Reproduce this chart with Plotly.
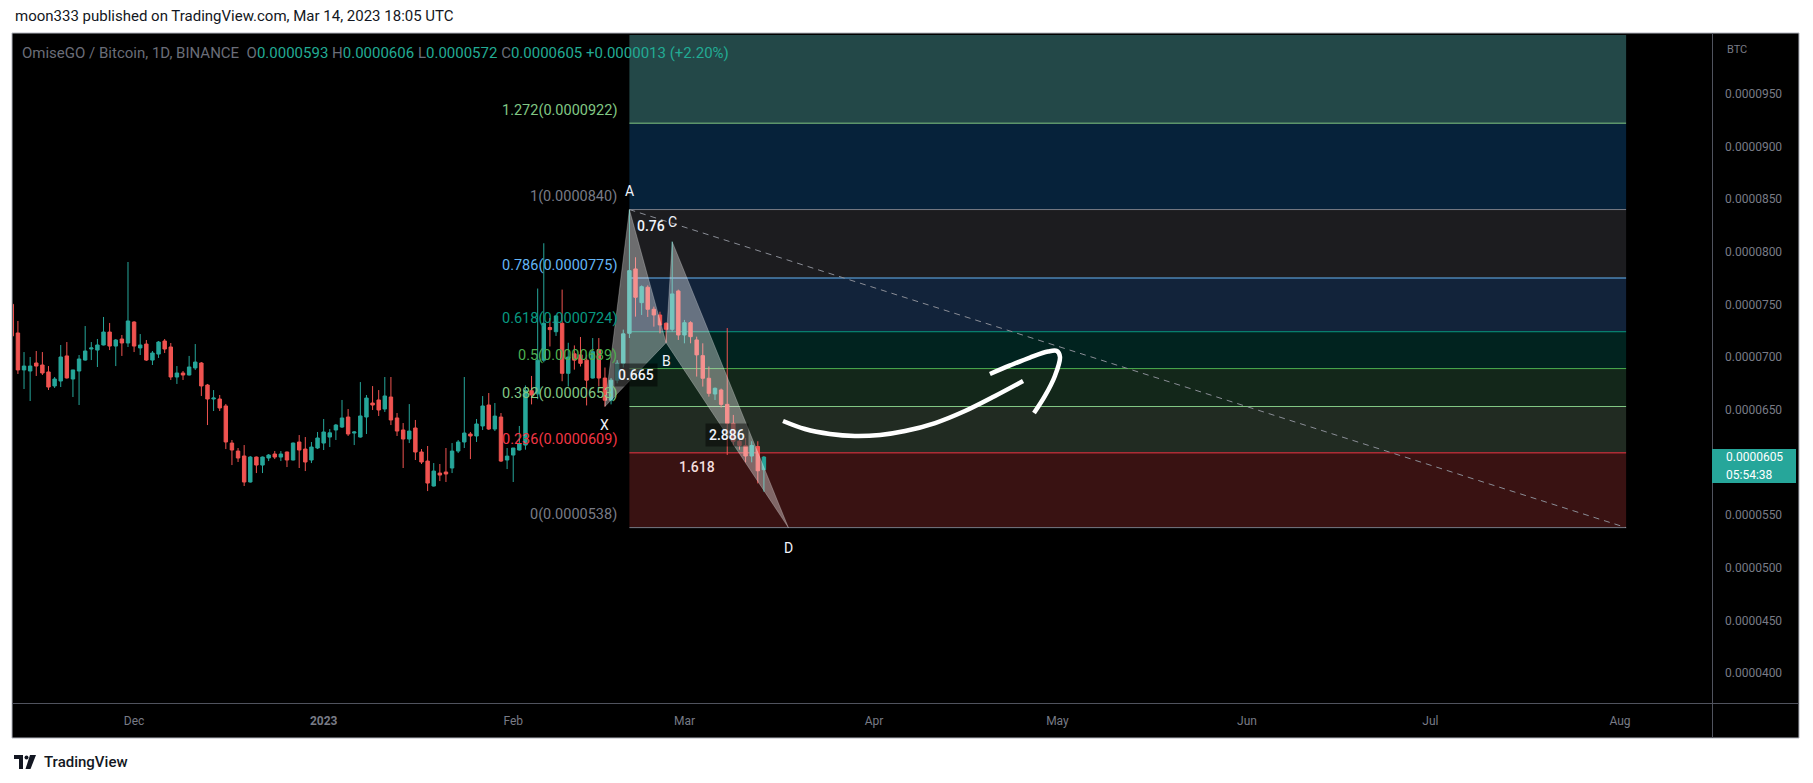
import pandas as pd
import plotly.graph_objects as go

# ---------------- data (prices in units of 0.0000001 BTC) ----------------
UNIT = 1e-7
first_day = "2022-11-11"

opens = [750, 722.8, 687.7, 686.7, 694.3, 692.4, 685.8, 672.5, 677.2, 701,
         679.1, 686.7, 697.1, 707.6, 706.6, 711.4, 723.7, 710.4, 717.1, 713.3,
         733.2, 708.6, 712.3, 697.1, 702.8, 715.2, 709.5, 681, 684.8, 682.9,
         689.6, 694.3, 673.4, 660.1, 660.1, 653.5, 618.3, 610.7, 606, 581.3,
         605, 597.4, 604.1, 607.9, 605, 609.8, 602.2, 619.3, 612.6, 602.2,
         613.6, 618.3, 624, 630.7, 633.5, 643, 627.8, 624, 643, 656.3,
         659.2, 650.6, 662, 642.1, 630.7, 622.1, 632.6, 609.8, 601.2, 577.5,
         589.8, 590.8, 594.6, 610.7, 619.3, 626.9, 625, 634.5, 654.4, 631.6,
         643, 602.2, 606.9, 611.7, 616.4, 668, 665, 697, 728, 724,
         732, 684.5, 703, 702, 697, 680, 707, 680, 659, 678,
         694, 722.5, 783.6, 751.6, 766.2, 745.3, 739.9, 732, 726.3, 762.7,
         720.9, 732.6, 716.2, 701.3, 679.8, 664.9, 668.7, 655, 637, 620,
         616, 606, 615, 593]
highs = [755, 734.2, 704.7, 700, 705.7, 704.7, 691.4, 681, 711.4, 714.2,
         687.7, 701.9, 729.4, 714.2, 717.1, 738, 732.3, 717.1, 720.9, 790.2,
         734, 721.8, 716.1, 705.7, 715.2, 717.1, 713.3, 691.4, 686.7, 701,
         712.3, 695.2, 674.4, 668.6, 663.9, 655.4, 621.2, 613.6, 616.4, 606,
         605.5, 605.5, 607.9, 610.7, 610.7, 610.2, 618.8, 625.9, 624, 619.3,
         628.8, 641.1, 631.6, 636.4, 659.2, 650.6, 629.7, 676.2, 663.9, 672.4,
         668.6, 681, 681, 646.8, 637.3, 655.3, 640.2, 612.6, 615.5, 599.3,
         598.4, 613.6, 618.3, 621.2, 681, 628.8, 641.1, 662.9, 665.8, 656.3,
         646.8, 613.6, 612.6, 634.5, 673, 682, 765, 808, 737, 740,
         764, 713.5, 711, 719, 702, 718, 718, 690, 680, 697,
         726, 840, 794.7, 768, 768, 747.8, 743, 733, 809.5, 764,
         735.2, 734, 719.3, 713, 690.9, 671, 670, 727.5, 645, 628,
         623, 620, 620, 606]
lows = [718, 683.9, 669.6, 658.2, 682, 682.9, 668.7, 670.6, 671.5, 679.5,
        662, 654.4, 696.5, 697.1, 690.5, 711, 706.6, 691.4, 701, 709.5,
        704.7, 701.9, 696.2, 692.4, 699.1, 703.8, 678.2, 674.4, 678.2, 682.5,
        687.7, 663, 635.4, 648.7, 648.7, 612.6, 597.4, 600.3, 577.5, 580.8,
        589.8, 589.8, 601.2, 603.1, 601.2, 595.5, 601.8, 594.6, 591.7, 599.3,
        612.6, 611.7, 614.5, 621.2, 632.6, 625, 616.4, 623.5, 626.9, 649.7,
        644, 647.8, 635.4, 625, 594.6, 618.3, 602.2, 598.4, 572.7, 577,
        582.2, 581.3, 589.8, 608.8, 613.6, 603.1, 619.3, 630.7, 630.7, 629.7,
        600.3, 593.6, 581.3, 611.2, 612, 655, 660, 695, 710, 720,
        677, 672, 688, 691, 654, 679.5, 672, 653, 655, 675,
        690, 718, 738.3, 739.9, 738, 728.8, 722.5, 713.6, 724, 716.2,
        713, 713, 681.4, 671.9, 662.4, 659.2, 652, 607, 616, 612,
        600, 600, 580, 572]
closes = [720, 687.7, 691.4, 691.4, 691.4, 684.8, 671.5, 679.1, 700, 680.1,
          687.7, 698.1, 705.7, 708.6, 711.4, 723.7, 710.4, 716.1, 713.3, 734.2,
          710.4, 711.4, 697.1, 703.8, 714.2, 707.6, 681, 684.8, 682.9, 690.5,
          695.2, 672.5, 660.1, 661, 651.6, 619.3, 611.7, 604.1, 581.3, 605,
          597.4, 605, 606.9, 605, 607.9, 602.2, 618.3, 611.7, 600.3, 614.5,
          623.1, 628.8, 628, 635.4, 642.1, 626.9, 628.8, 644, 661, 654.4,
          649.7, 663, 640.2, 629.7, 622.1, 629.7, 609.8, 600.3, 580.3, 591.7,
          587.9, 588.9, 610.7, 619.3, 627.8, 625, 636.4, 653.5, 631.6, 643.9,
          601.2, 605.9, 613.6, 617.4, 668, 664, 697, 732, 726, 739,
          684.5, 700, 697, 694, 678, 705, 680, 659, 678, 694,
          722, 782, 756.7, 766.8, 745.3, 739.9, 730.4, 726.3, 759.9, 720.9,
          732.6, 719.3, 702, 679.8, 665.5, 670.3, 655, 637, 620, 616,
          606, 616, 592, 605]

x_ticks = ["2022-12-01", "2023-01-01", "2023-02-01", "2023-03-01", "2023-04-01",
           "2023-05-01", "2023-06-01", "2023-07-01", "2023-08-01"]
x_tick_labels = ["Dec", "<b>2023</b>", "Feb", "Mar", "Apr", "May", "Jun", "Jul", "Aug"]
# 0.0000600 is hidden behind the last-price label in the reference
y_ticks = [400, 450, 500, 550, 650, 700, 750, 800, 850, 900, 950]

fib_levels = ["0", "0.236", "0.382", "0.5", "0.618", "0.786", "1", "1.272"]
fib_prices = [538, 609, 653, 689, 724, 775, 840, 922]
fib_top_price = 1027          # 1.618 level, above the visible range
fib_start = "2023-02-20"
fib_end = "2023-08-02"

pattern_names = ["X", "A", "B", "C", "D"]
pattern_dates = ["2023-02-16", "2023-02-20", "2023-02-26", "2023-02-27", "2023-03-18"]
pattern_prices = [653, 840, 713.6, 809.5, 538]
ratio_labels = ["0.665", "0.76", "2.886", "1.618"]   # on XB, AC, BD, XD

trend_dates = ["2023-02-20", "2023-08-02"]
trend_prices = [840, 538]

arrow_dates = ["2023-03-17 03:00", "2023-03-20 17:00", "2023-03-24 19:00", "2023-03-28 21:00",
               "2023-04-02 00:00", "2023-04-06 02:00", "2023-04-11 00:00", "2023-04-15 21:00",
               "2023-04-20 19:00", "2023-04-25 09:00"]
arrow_prices = [639.2, 631.6, 626.9, 625.0, 626.0, 629.7, 637.3, 648.7, 663.0, 677.2]
head_dates = ["2023-04-19 23:00", "2023-04-23 06:00", "2023-04-26 12:00", "2023-04-29 11:00",
              "2023-04-30 22:00", "2023-05-01 10:00", "2023-04-30 14:00", "2023-04-28 23:00",
              "2023-04-27 04:00"]
head_prices = [683.9, 692.0, 699.5, 705.2, 705.7, 700.0, 682.0, 663.0, 646.8]

countdown = "05:54:38"
header_text = "moon333 published on TradingView.com, Mar 14, 2023 18:05 UTC"
symbol_text = "OmiseGO / Bitcoin, 1D, BINANCE"

# ---------------- layout constants ----------------
W, H = 1813, 783
PL, PR, PT, PB = 13, 1712, 35, 703
ANCHOR_DATE, ANCHOR_PX, PX_PER_DAY = pd.Timestamp("2022-12-01"), 134.1, 6.1148
Y_REF_UNITS, Y_REF_PX, PX_PER_UNIT = 950, 93.7, 1.0532

UP, DN = "#26a69a", "#ef5350"
AX_TXT = "#787b86"
FONT = "Roboto"


def px(x):
    return (x - PL) / (PR - PL)


def py(y):
    return (PB - y) / (PB - PT)


def px_to_date(x):
    return ANCHOR_DATE + pd.Timedelta(days=(x - ANCHOR_PX) / PX_PER_DAY)


def py_to_units(y):
    return Y_REF_UNITS - (y - Y_REF_PX) / PX_PER_UNIT


dates = pd.date_range(first_day, periods=len(opens), freq="D")
u = lambda arr: [v * UNIT for v in arr]

fig = go.Figure()
fig.add_trace(go.Candlestick(
    x=dates, open=u(opens), high=u(highs), low=u(lows), close=u(closes),
    increasing=dict(line=dict(color=UP, width=1), fillcolor=UP),
    decreasing=dict(line=dict(color=DN, width=1), fillcolor=DN),
    whiskerwidth=0, showlegend=False, hoverinfo="skip"))

# harmonic pattern triangles
pd_dates = [pd.Timestamp(d) for d in pattern_dates]
for tri in ([0, 1, 2], [2, 3, 4]):
    idx = tri + [tri[0]]
    fig.add_trace(go.Scatter(
        x=[pd_dates[i] for i in idx], y=[pattern_prices[i] * UNIT for i in idx],
        mode="lines", fill="toself", fillcolor="rgba(255,255,255,0.36)",
        line=dict(color="rgba(255,255,255,0.25)", width=1),
        hoverinfo="skip", showlegend=False))

# dashed trend line
fig.add_trace(go.Scatter(x=trend_dates, y=u(trend_prices), mode="lines",
                         line=dict(color="#8a8d96", width=1, dash="6px,5px"),
                         hoverinfo="skip", showlegend=False))

# hand drawn arrow
for xs, ys in ((arrow_dates, arrow_prices), (head_dates, head_prices)):
    fig.add_trace(go.Scatter(x=xs, y=u(ys), mode="lines",
                             line=dict(color="white", width=4.5, shape="spline", smoothing=1.0),
                             hoverinfo="skip", showlegend=False))

shapes = []
# chart frame (black) around plot + axes
shapes.append(dict(type="rect", xref="paper", yref="paper", x0=px(12), x1=px(1799),
                   y0=py(738), y1=py(33), fillcolor="black",
                   line=dict(color="#b2b5be", width=1), layer="below"))

# fib fills
fill_colors = ["#391212", "#212b22", "#13271a", "#01231f", "#12233a", "#1c1c1f", "#06223a", "#234848"]
bounds = fib_prices + [fib_top_price]
for i in range(len(fib_prices)):
    shapes.append(dict(type="rect", xref="x", yref="y", x0=fib_start, x1=fib_end,
                       y0=bounds[i] * UNIT, y1=bounds[i + 1] * UNIT,
                       fillcolor=fill_colors[i], line=dict(width=0), layer="below"))
line_colors = ["#787b86", "#f23645", "#81c784", "#4caf50", "#089981", "#64b5f6", "#787b86", "#81c784"]
for i, p in enumerate(fib_prices):
    shapes.append(dict(type="line", xref="x", yref="y", x0=fib_start, x1=fib_end,
                       y0=p * UNIT, y1=p * UNIT, line=dict(color=line_colors[i], width=1),
                       layer="below"))

# separators
shapes.append(dict(type="line", xref="paper", yref="paper", x0=px(12), x1=px(1799),
                   y0=py(703.5), y1=py(703.5), line=dict(color="#50535e", width=1)))
shapes.append(dict(type="line", xref="paper", yref="paper", x0=px(1712.5), x1=px(1712.5),
                   y0=py(738), y1=py(33), line=dict(color="#50535e", width=1)))

# last price box
shapes.append(dict(type="rect", xref="paper", yref="paper", x0=px(1712), x1=px(1796),
                   y0=py(483), y1=py(449), fillcolor=UP, line=dict(width=0)))

# TradingView logo glyph
LOGO = "#131722"
shapes.append(dict(type="rect", xref="paper", yref="paper", x0=px(14), x1=px(23),
                   y0=py(759), y1=py(755), fillcolor=LOGO, line=dict(width=0)))
shapes.append(dict(type="rect", xref="paper", yref="paper", x0=px(19), x1=px(23),
                   y0=py(769), y1=py(755), fillcolor=LOGO, line=dict(width=0)))
shapes.append(dict(type="circle", xref="paper", yref="paper", x0=px(24.5), x1=px(28.5),
                   y0=py(759.5), y1=py(755.5), fillcolor=LOGO, line=dict(width=0)))
shapes.append(dict(type="path", xref="paper", yref="paper",
                   path=f"M {px(30)} {py(755)} L {px(36)} {py(755)} L {px(30.5)} {py(769)} "
                        f"L {px(25.5)} {py(769)} Z",
                   fillcolor=LOGO, line=dict(width=0)))

annotations = []
# fib labels
for lvl, p, c in zip(fib_levels, fib_prices, line_colors):
    annotations.append(dict(x=fib_start, y=p * UNIT, xref="x", yref="y",
                            text=f"{lvl}({p * UNIT:.7f})", showarrow=False,
                            xanchor="right", yanchor="middle", xshift=-10, yshift=13,
                            font=dict(family=FONT, size=14.5, color=c)))

# pattern point labels
point_shift = {"X": -18, "A": 19, "B": -18, "C": 20, "D": -20}
for n, d, p in zip(pattern_names, pd_dates, pattern_prices):
    annotations.append(dict(x=d, y=p * UNIT, xref="x", yref="y", text=n, showarrow=False,
                            yshift=point_shift[n], font=dict(family=FONT, size=14, color="#f0f3fa")))

# ratio labels at the midpoints of XB, AC, BD, XD
pairs = [(0, 2), (1, 3), (2, 4), (0, 4)]
ratio_colors = ["#f0f3fa", "#f0f3fa", "#f0f3fa", "#f3dede"]
ratio_bg = ["rgba(0,0,0,0.5)", "rgba(0,0,0,0)", "rgba(0,0,0,0.45)", "rgba(0,0,0,0)"]
for (a, b), txt, col, bg in zip(pairs, ratio_labels, ratio_colors, ratio_bg):
    mx = pd_dates[a] + (pd_dates[b] - pd_dates[a]) / 2
    my = (pattern_prices[a] + pattern_prices[b]) / 2 * UNIT
    annotations.append(dict(x=mx, y=my, xref="x", yref="y", text=txt, showarrow=False,
                            bgcolor=bg, borderpad=3,
                            font=dict(family=FONT, size=14, color=col, weight=500)))

# header
annotations.append(dict(x=px(13), y=py(16), xref="paper", yref="paper", text=header_text,
                        showarrow=False, xanchor="left", yanchor="middle",
                        font=dict(family=FONT, size=15, color="#131722")))
# legend line
o, h, l, c = opens[-1], highs[-1], lows[-1], closes[-1]
chg = c - closes[-2]
pct = chg / closes[-2] * 100
G, T = "#6a6d78", "#22ab94"
sp = "&#160;&#160;"
legend = (f'<span style="color:{G}">{symbol_text}</span>{sp}'
          f'<span style="color:{G}">O</span><span style="color:{T}">{o * UNIT:.7f}</span>&#160;'
          f'<span style="color:{G}">H</span><span style="color:{T}">{h * UNIT:.7f}</span>&#160;'
          f'<span style="color:{G}">L</span><span style="color:{T}">{l * UNIT:.7f}</span>&#160;'
          f'<span style="color:{G}">C</span><span style="color:{T}">{c * UNIT:.7f}</span>&#160;'
          f'<span style="color:{T}">{chg * UNIT:+.7f} ({pct:+.2f}%)</span>')
annotations.append(dict(x=px(20), y=py(53), xref="paper", yref="paper", text=legend,
                        showarrow=False, xanchor="left", yanchor="middle",
                        font=dict(family=FONT, size=15, color=G)))
# BTC unit label
annotations.append(dict(x=px(1725), y=py(50), xref="paper", yref="paper", text="BTC",
                        showarrow=False, xanchor="left", yanchor="middle",
                        font=dict(family=FONT, size=11, color=AX_TXT)))
# last price label
annotations.append(dict(x=px(1724), y=py(457), xref="paper", yref="paper",
                        text=f"{c * UNIT:.7f}", showarrow=False, xanchor="left", yanchor="middle",
                        font=dict(family=FONT, size=12, color="white")))
annotations.append(dict(x=px(1724), y=py(475), xref="paper", yref="paper",
                        text=countdown, showarrow=False, xanchor="left", yanchor="middle",
                        font=dict(family=FONT, size=12, color="white")))
# footer
annotations.append(dict(x=px(42), y=py(762), xref="paper", yref="paper", text="TradingView",
                        showarrow=False, xanchor="left", yanchor="middle",
                        font=dict(family=FONT, size=15, color="#131722", weight=500)))

x_left = px_to_date(PL)
x_right = px_to_date(PR)
y_bottom = py_to_units(PB) * UNIT
y_top = py_to_units(PT) * UNIT

fig.update_layout(
    template="none",
    width=W, height=H, autosize=False,
    margin=dict(l=PL, r=W - PR, t=PT, b=H - PB, pad=0),
    paper_bgcolor="white", plot_bgcolor="black",
    font=dict(family=FONT, size=12, color=AX_TXT),
    hovermode=False, showlegend=False, boxgap=0.2,
    shapes=shapes, annotations=annotations,
    xaxis=dict(type="date", range=[x_left, x_right], rangeslider=dict(visible=False),
               showgrid=False, zeroline=False, showline=False, automargin=False,
               tickvals=x_ticks, ticktext=x_tick_labels, ticks="",
               tickfont=dict(family=FONT, size=12, color=AX_TXT), ticklabelstandoff=9),
    yaxis=dict(side="right", range=[y_bottom, y_top], showgrid=False, zeroline=False,
               showline=False, automargin=False,
               tickvals=u(y_ticks), tickformat=".7f", ticks="",
               tickfont=dict(family=FONT, size=12, color=AX_TXT), ticklabelstandoff=12),
)

fig.write_html(
    "out.html",
    config={"displayModeBar": False},
    post_script="document.body.style.margin='0px';document.body.style.padding='0px';"
                "document.documentElement.style.overflow='hidden';",
)
